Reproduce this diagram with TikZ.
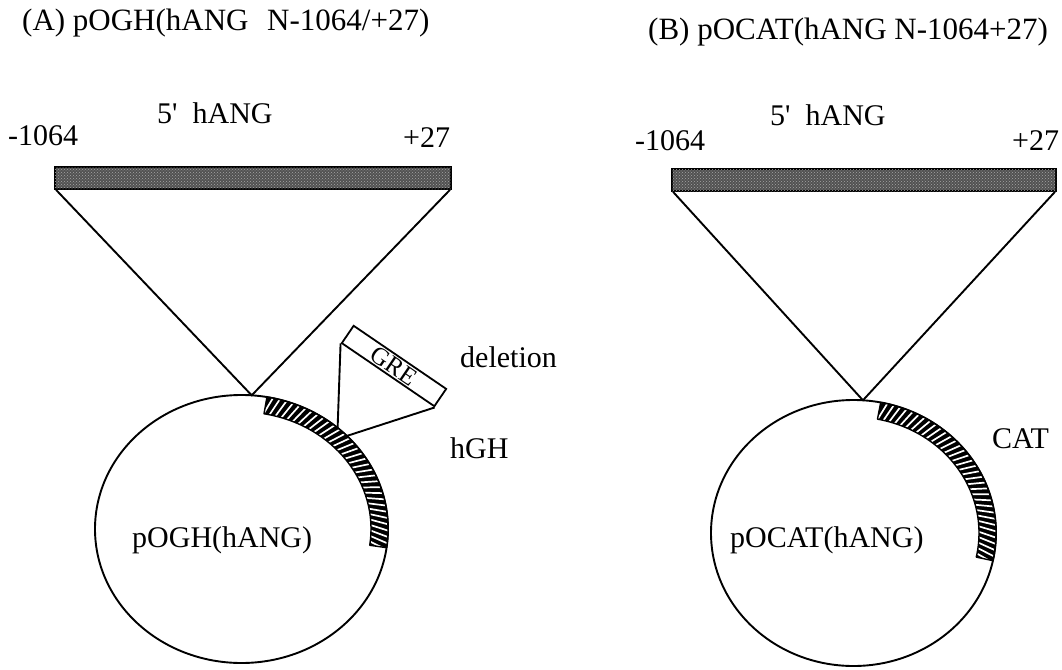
\documentclass[tikz,border=0pt]{standalone}
\usepackage{fontspec}
\setmainfont{Liberation Serif}[Ligatures=TeXOff]
\usetikzlibrary{patterns,calc}

% hatched gene segment lying along the inside of a plasmid ellipse
% #1 centre, #2 x radius, #3 y radius, #4 start angle, #5 end angle
\newcommand\bandpath[5]{%
  ($(#1)+(#4:#2pt and #3pt)$)
  arc[start angle=#4, end angle=#5, x radius=#2pt, y radius=#3pt]
  -- ($(#1)+(#5:#2pt-17pt and #3pt-17pt)$)
  arc[start angle=#5, end angle=#4, x radius=#2pt-17pt, y radius=#3pt-17pt]
  -- cycle}
\newcommand\hatchband[5]{%
  \fill[black] \bandpath{#1}{#2}{#3}{#4}{#5};
  \begin{scope}
    \clip \bandpath{#1}{#2}{#3}{#4}{#5};
    \foreach \k in {0,...,40}{
      \pgfmathsetmacro\ta{#4+\k*2.7}
      \pgfmathsetmacro\tb{\ta-4}
      \draw[white, line width=1.7pt]
        ($(#1)+(\ta:#2pt-22pt and #3pt-22pt)$) -- ($(#1)+(\tb:#2pt+4pt and #3pt+4pt)$);
    }
  \end{scope}
  \draw[line width=1.4pt, line join=round] \bandpath{#1}{#2}{#3}{#4}{#5};
}

\begin{document}
\begin{tikzpicture}[x=1pt,y=1pt,
  lbl/.style={inner sep=0pt, anchor=base west, font=\fontsize{30}{36}\selectfont},
  ttl/.style={lbl, font=\fontsize{31}{37}\selectfont},
  insert/.style={draw=black, line width=1.8pt, fill=black!68,
    postaction={pattern=crosshatch dots, pattern color=black!35},
    minimum height=22pt, inner sep=0pt},
  arm/.style={line width=1.9pt, line join=round},
  plasmid/.style={line width=1.9pt},
  grebox/.style={draw, line width=1.8pt, fill=white, minimum width=112pt,
    minimum height=21pt, inner sep=0pt, rotate=-34.3,
    font=\fontsize{25}{25}\selectfont},
]
\useasboundingbox (0,0) rectangle (1062,-669);

% ---- titles
\node[ttl] (titleA) at (22,-31) {(A) pOGH(hANG\hspace{0.6em}N-1064/+27)};
\node[ttl] (titleB) at (648,-40) {(B) pOCAT(hANG N-1064+27)};

% ---- panel A: promoter fragment inserted into pOGH
\node[lbl] (hangA) at (157,-123) {5'\ \ hANG};
\node[lbl] (fromA) at (8,-145) {-1064};
\node[lbl] (toA) at (403,-147) {+27};
\node[insert, minimum width=396pt] (barA) at (253,-178) {};

\coordinate (pA) at (241.5,-529);
\coordinate (apexA) at ($(pA)+(86:146.5pt and 134pt)$);
\draw[arm] ($(barA.south west)+(2,0)$) -- (apexA) -- ($(barA.south east)+(-2,0)$);

\draw[plasmid] (pA) ellipse [x radius=146.5pt, y radius=134pt];
\hatchband{pA}{146.5}{134}{-8}{80}

% GRE deletion
\coordinate (delL) at ($(pA)+(49:146.5pt and 134pt)$);
\coordinate (delR) at ($(pA)+(44:146.5pt and 134pt)$);
\node[grebox] (gre) at (394,-366) {GRE};
\draw[arm] (gre.south west) -- (delL);
\draw[arm] (gre.south east) -- (delR);

\node[lbl] (delA) at (460,-367) {deletion};
\node[lbl] (hgh) at (450,-458) {hGH};
\node[lbl] (nameA) at (132,-547) {pOGH(hANG)};

% ---- panel B: promoter fragment inserted into pOCAT
\node[lbl] (hangB) at (770,-125) {5'\ \ hANG};
\node[lbl] (fromB) at (635,-150) {-1064};
\node[lbl] (toB) at (1012,-150) {+27};
\node[insert, minimum width=384pt] (barB) at (864,-180) {};

\coordinate (pB) at (853.5,-533);
\coordinate (apexB) at ($(pB)+(86.2:142.5pt and 133pt)$);
\draw[arm] ($(barB.south west)+(2,0)$) -- (apexB) -- ($(barB.south east)+(-2,0)$);

\draw[plasmid] (pB) ellipse [x radius=142.5pt, y radius=133pt];
\hatchband{pB}{142.5}{133}{-12}{79}

\node[lbl] (cat) at (992,-448) {CAT};
\node[lbl] (nameB) at (730,-547) {pOCAT(hANG)};
\end{tikzpicture}
\end{document}
